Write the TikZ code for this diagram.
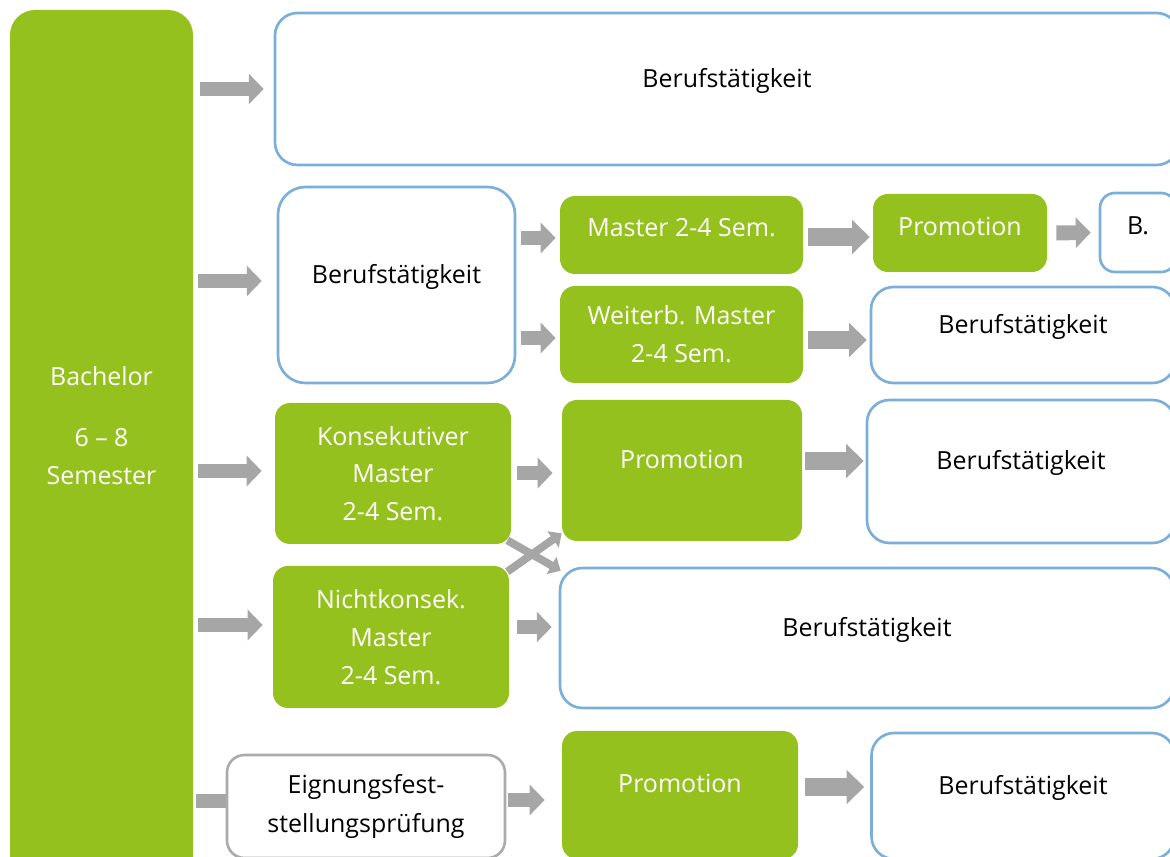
\documentclass[tikz,border=0pt]{standalone}
\usepackage{fontspec}
\setmainfont{Open Sans}
\usetikzlibrary{arrows.meta,positioning,calc}
\definecolor{bgreen}{HTML}{95C11F}
\definecolor{bblue}{HTML}{7BAFD9}
\definecolor{bgray}{HTML}{ABABAB}
\definecolor{agray}{HTML}{A6A6A6}

\begin{document}
\begin{tikzpicture}
  [x=0.02cm, y=-0.02cm,
  every node/.style={font=\fontsize{14.2}{21.5}\selectfont, align=center, inner sep=2pt},
  greenbox/.style={fill=bgreen, text=white, rounded corners=0.3cm},
  bluebox/.style={draw=bblue, line width=1.5pt, fill=white, rounded corners=0.45cm},
  graybox/.style={draw=bgray, line width=1.5pt, fill=white, rounded corners=0.35cm},
  lift/.style={text depth=#1}, lift/.default=13pt,
  boxsize/.style 2 args={minimum width=#1*0.02cm, minimum height=#2*0.02cm},
 ]
  \tikzstyle{blockarrow}=[draw=agray, line width=8.5pt, -{Triangle[length=8.5pt,width=17pt]}, shorten <=0.1cm, shorten >=0.16cm]
  \tikzstyle{thinarrow}=[draw=agray, line width=4.5pt, -{Triangle[length=6pt,width=11pt]}]
\useasboundingbox (0,0) rectangle (1170,857);
\clip (0,0) rectangle (1170,857);

% Bachelor column
\node[greenbox, rounded corners=0.5cm, boxsize={183}{870}, lift=22pt] (bach) at (101.5,445)
  {Bachelor\\[13pt]6 – 8\\Semester};

% row 1
\node[bluebox, boxsize={904}{152}, lift] (beruf1) at (727,89) {Berufstätigkeit};

% row 2
\node[bluebox, rounded corners=0.55cm, boxsize={237}{196}, lift] (beruf2) at (396.5,285) {Berufstätigkeit};
\node[greenbox, boxsize={243}{78}, lift=8pt] (master) at (681.5,235) {Master 2-4 Sem.};
\node[greenbox, boxsize={174}{78}, lift=7pt] (promoA) at (960,233) {Promotion};
\node[bluebox, rounded corners=0.3cm, boxsize={76}{79}, lift=8pt] (bshort) at (1138,232.5) {B.};
\node[greenbox, boxsize={243}{97}] (weiterb) at (681.5,334.5) {Weiterb. Master\\2-4 Sem.};
\node[bluebox, boxsize={304}{96}, lift] (beruf3) at (1023,335) {Berufstätigkeit};

% row 3
\node[greenbox, boxsize={236}{141}] (konsek) at (393,473.5) {Konsekutiver\\Master\\2-4 Sem.};
\node[greenbox, boxsize={240}{141}, lift] (promoB) at (682,470.5) {Promotion};
\node[bluebox, boxsize={308}{143}, lift] (beruf4) at (1021,471.5) {Berufstätigkeit};

% row 4
\node[greenbox, boxsize={236}{142}] (nicht) at (391,637) {Nichtkonsek.\\Master\\2-4 Sem.};
\node[bluebox, boxsize={614}{140}, lift] (beruf5) at (867,638) {Berufstätigkeit};

% row 5
\node[graybox, boxsize={278}{103}, font=\fontsize{14.2}{22.5}\selectfont] (eign) at (366,806.5) {Eignungsfest-\\stellungsprüfung};
\node[greenbox, boxsize={236}{128}, lift] (promoC) at (680,795) {Promotion};
\node[bluebox, boxsize={303}{126}, lift] (beruf6) at (1023,796) {Berufstätigkeit};

% arrows
\draw[blockarrow, shorten <=0.14cm, shorten >=0.2cm] (bach.east |- beruf1.west) -- (beruf1.west);
\draw[blockarrow, shorten >=0.3cm] (bach.east |- 0,281) -- (beruf2.west |- 0,281);
\draw[blockarrow, shorten >=0.26cm] (bach.east |- 0,471) -- (konsek.west |- 0,471);
\draw[blockarrow, shorten >=0.2cm] (bach.east |- 0,625) -- (nicht.west |- 0,625);
\draw[draw=agray, line width=8.5pt, shorten <=0.06cm] (bach.east |- 0,801) -- (eign.west |- 0,801);

\draw[blockarrow, shorten >=0.08cm] (beruf2.east |- 0,238) -- (master.west |- 0,238);
\draw[blockarrow, shorten >=0.08cm] (beruf2.east |- 0,338) -- (weiterb.west |- 0,338);
\draw[blockarrow, line width=10pt, -{Triangle[length=10pt,width=19pt]}, shorten >=0.06cm] (master.east |- 0,237) -- (promoA.west |- 0,237);
\draw[blockarrow, shorten <=0.18cm] (promoA.east) -- (bshort.west);
\draw[blockarrow, line width=10pt, -{Triangle[length=10pt,width=19pt]}, shorten >=0.06cm] (weiterb.east |- 0,340) -- (beruf3.west |- 0,340);

\draw[blockarrow, shorten <=0.12cm, shorten >=0.18cm] (konsek.east |- 0,473) -- (promoB.west |- 0,473);
\draw[blockarrow, line width=10pt, -{Triangle[length=10pt,width=19pt]}, shorten <=0.06cm, shorten >=0.04cm] (promoB.east |- 0,461) -- (beruf4.west |- 0,461);
\draw[blockarrow, shorten <=0.16cm, shorten >=0.14cm] (nicht.east |- 0,627) -- (beruf5.west |- 0,627);

\draw[blockarrow, shorten <=0.04cm, shorten >=0.34cm] (eign.east |- 0,800) -- (promoC.west |- 0,800);
\draw[blockarrow, line width=10pt, -{Triangle[length=10pt,width=19pt]}, shorten <=0.14cm, shorten >=0.12cm] (promoC.east |- 0,787) -- (beruf6.west |- 0,787);

% crossing
\draw[thinarrow] ([shift={(-4,-4)}]konsek.south east) -- ([shift={(2,4)}]beruf5.north west);
\draw[thinarrow] ([shift={(-2,6)}]nicht.north east) -- ([shift={(0,-8)}]promoB.south west);
\end{tikzpicture}
\end{document}
